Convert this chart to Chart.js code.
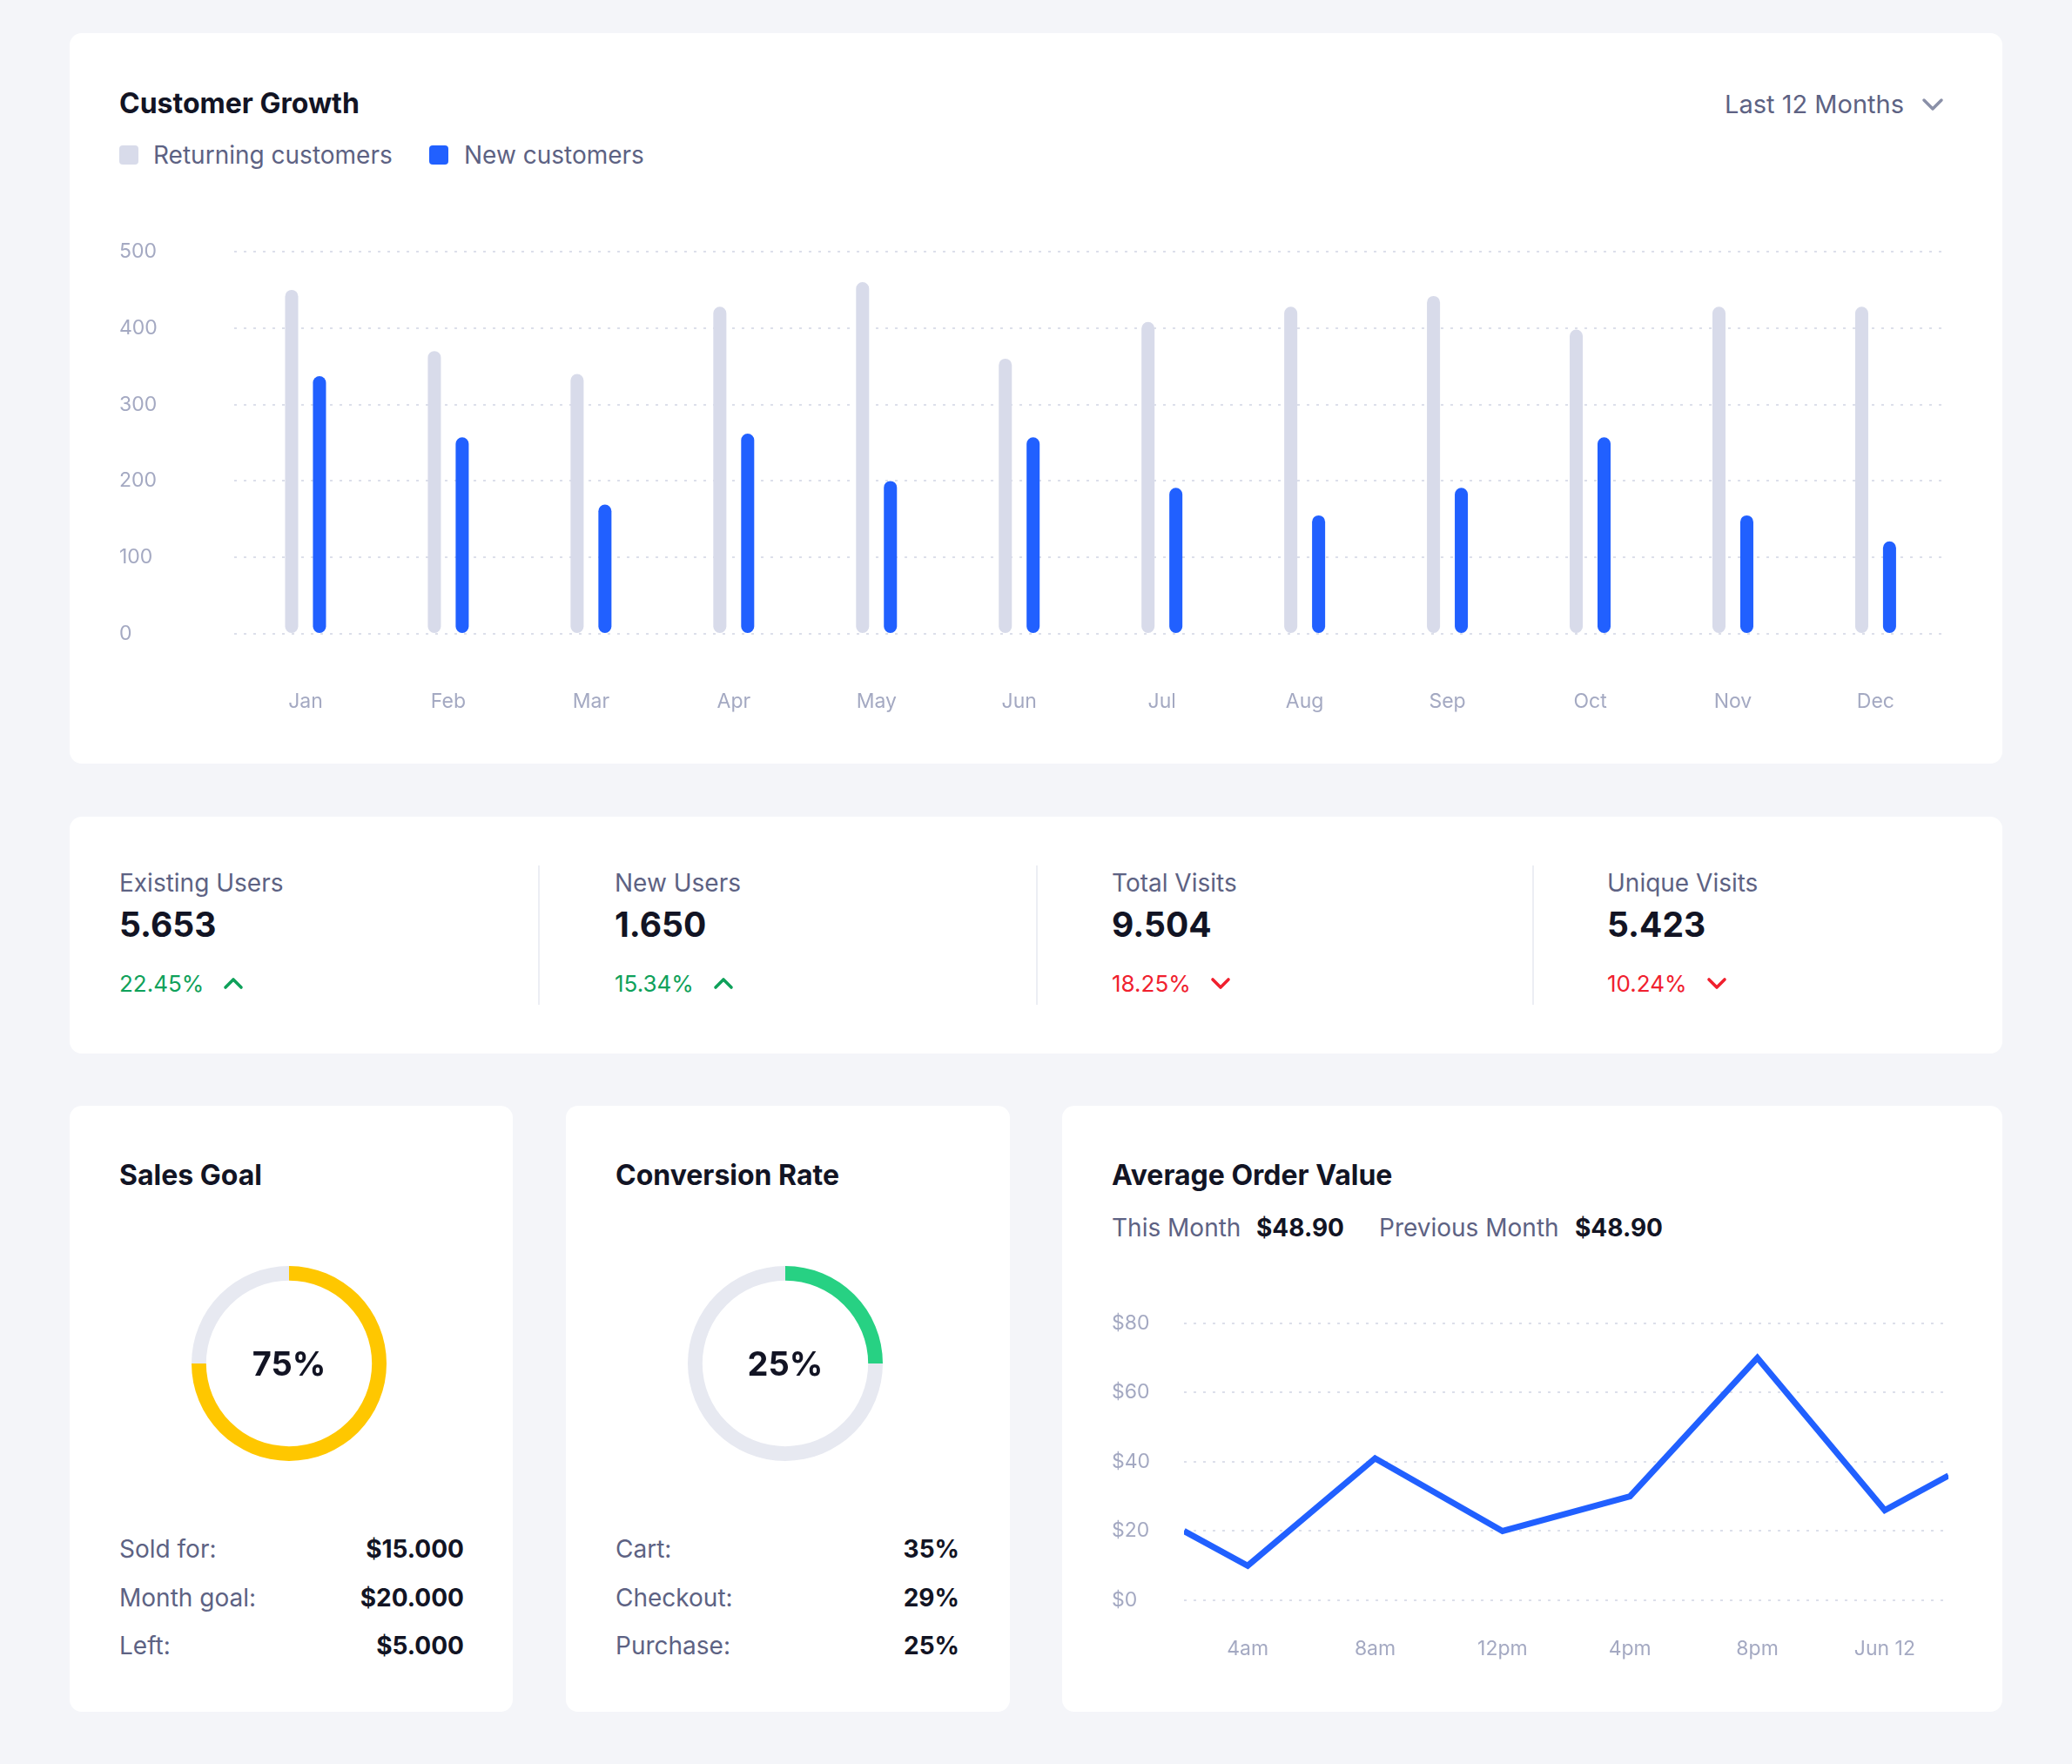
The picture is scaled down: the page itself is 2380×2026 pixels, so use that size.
<!DOCTYPE html>
<html>
<head>
<meta charset="utf-8">
<title>Dashboard</title>
<script src="https://cdn.jsdelivr.net/npm/chart.js@4.4.1/dist/chart.umd.min.js"></script>
<style>
  html, body { margin: 0; padding: 0; }
  body {
    width: 2380px; height: 2026px; position: relative; overflow: hidden;
    background: #f4f5f9; font-family: Inter, "Noto Sans", sans-serif; color: #5d6283;
  }
  .card { position: absolute; background: #fff; border-radius: 14px; }
  .abs { position: absolute; white-space: nowrap; line-height: 1; }
  .title { font-size: 32px; font-weight: 700; color: #121424; }
  .muted { font-size: 28px; color: #5d6283; }
  .big { font-size: 39px; font-weight: 700; color: #121424; }
  .val { font-size: 28px; font-weight: 700; color: #121424; }
  .up { font-size: 26px; color: #0fa15a; }
  .down { font-size: 26px; color: #f0202e; }
  .pct { font-size: 38px; font-weight: 700; color: #121424; text-align: center; width: 224px; }
  .sq { position: absolute; width: 22px; height: 22px; border-radius: 4px; }
  .divider { position: absolute; width: 2px; background: #eceef4; top: 994px; height: 160px; }
  .chev { display: inline-block; vertical-align: middle; margin-left: 22px; margin-top: -4px; }
  .box { position: absolute; }
</style>
</head>
<body>

<!-- cards -->
<div class="card" style="left:80px;top:38px;width:2220px;height:839px"></div>
<div class="card" style="left:80px;top:938px;width:2220px;height:272px"></div>
<div class="card" style="left:80px;top:1270px;width:509px;height:696px"></div>
<div class="card" style="left:650px;top:1270px;width:510px;height:696px"></div>
<div class="card" style="left:1220px;top:1270px;width:1080px;height:696px"></div>

<!-- customer growth header -->
<div class="abs title" style="left:137px;top:103px">Customer Growth</div>
<div class="sq" style="left:137px;top:167px;background:#d8dbea"></div>
<div class="abs muted" style="left:176px;top:164px">Returning customers</div>
<div class="sq" style="left:493px;top:167px;background:#2160ff"></div>
<div class="abs muted" style="left:533px;top:164px">New customers</div>
<div class="abs muted" style="right:193px;top:105px;font-size:29px">Last 12 Months</div>
<svg class="box" style="left:2207px;top:111px" width="26" height="18" viewBox="0 0 26 18">
  <polyline points="3,4 13,14 23,4" fill="none" stroke="#8a90a8" stroke-width="3.5" stroke-linecap="round" stroke-linejoin="round"/>
</svg>

<div class="box" style="left:137px;top:268px;width:2103px;height:553px"><canvas id="growthChart"></canvas></div>

<!-- stats row -->
<div class="divider" style="left:618px"></div>
<div class="divider" style="left:1190px"></div>
<div class="divider" style="left:1760px"></div>
<div id="stats"></div>

<!-- sales goal -->
<div class="abs title" style="left:137px;top:1334px">Sales Goal</div>
<div class="box" style="left:220px;top:1454px;width:224px;height:224px"><canvas id="salesDonut"></canvas></div>
<div class="abs pct" style="left:220px;top:1547px">75%</div>
<div id="salesRows"></div>

<!-- conversion rate -->
<div class="abs title" style="left:707px;top:1334px">Conversion Rate</div>
<div class="box" style="left:790px;top:1454px;width:224px;height:224px"><canvas id="convDonut"></canvas></div>
<div class="abs pct" style="left:790px;top:1547px">25%</div>
<div id="convRows"></div>

<!-- average order value -->
<div class="abs title" style="left:1277px;top:1334px">Average Order Value</div>
<div class="abs muted" style="left:1277px;top:1396px">This Month</div>
<div class="abs val" style="left:1443px;top:1396px">$48.90</div>
<div class="abs muted" style="left:1584px;top:1396px">Previous Month</div>
<div class="abs val" style="left:1809px;top:1396px">$48.90</div>
<div class="box" style="left:1277px;top:1506px;width:965px;height:402px"><canvas id="orderChart"></canvas></div>

<script>
// Customer growth data
const months = ["Jan", "Feb", "Mar", "Apr", "May", "Jun", "Jul", "Aug", "Sep", "Oct", "Nov", "Dec"];
const returningCustomers = [450, 370, 340, 428, 460, 360, 408, 428, 442, 398, 428, 428];
const newCustomers = [337, 257, 169, 262, 200, 257, 191, 155, 191, 257, 155, 121];

// Stats row
const statLabels = ["Existing Users", "New Users", "Total Visits", "Unique Visits"];
const statValues = ["5.653", "1.650", "9.504", "5.423"];
const statChanges = ["22.45%", "15.34%", "18.25%", "10.24%"];
const statTrendUp = [true, true, false, false];

// Donuts
const salesGoalPercent = [75, 25];
const salesRowLabels = ["Sold for:", "Month goal:", "Left:"];
const salesRowValues = ["$15.000", "$20.000", "$5.000"];
const conversionPercent = [25, 75];
const convRowLabels = ["Cart:", "Checkout:", "Purchase:"];
const convRowValues = ["35%", "29%", "25%"];

// Average order value (x = hour of day)
const orderHours = [2, 4, 8, 12, 16, 20, 24, 26];
const orderValues = [20, 10, 41, 20, 30, 70, 26, 36];
const orderTickHours = [4, 8, 12, 16, 20, 24];
const orderTickLabels = ["4am", "8am", "12pm", "4pm", "8pm", "Jun 12"];

const tickFont = { family: "Inter", size: 23 };
const tickColor = "#a4a9c2";
const gridColor = "#dcdfea";

document.addEventListener("DOMContentLoaded", () => {
    buildStats();
    buildRows("salesRows", salesRowLabels, salesRowValues, 137, 533);
    buildRows("convRows", convRowLabels, convRowValues, 707, 1102);
    drawGrowthChart();
    drawDonut("salesDonut", salesGoalPercent, "#ffc700");
    drawDonut("convDonut", conversionPercent, "#27d183");
    drawOrderChart();
});

function chevron(up, color) {
    const pts = up ? "3,13 12,4 21,13" : "3,4 12,13 21,4";
    return '<svg class="chev" width="24" height="17" viewBox="0 0 24 17"><polyline points="' + pts +
        '" fill="none" stroke="' + color + '" stroke-width="3.6" stroke-linecap="round" stroke-linejoin="round"/></svg>';
}

function buildStats() {
    const lefts = [137, 706, 1277, 1846];
    let html = "";
    statLabels.forEach((label, i) => {
        const cls = statTrendUp[i] ? "up" : "down";
        const color = statTrendUp[i] ? "#0fa15a" : "#f0202e";
        html += '<div class="abs muted" style="left:' + lefts[i] + 'px;top:1000px">' + label + '</div>';
        html += '<div class="abs big" style="left:' + lefts[i] + 'px;top:1042px">' + statValues[i] + '</div>';
        html += '<div class="abs ' + cls + '" style="left:' + lefts[i] + 'px;top:1117px">' + statChanges[i] + chevron(statTrendUp[i], color) + '</div>';
    });
    document.getElementById("stats").innerHTML = html;
}

function buildRows(id, labels, values, left, right) {
    const tops = [1765, 1821, 1876];
    let html = "";
    labels.forEach((label, i) => {
        html += '<div class="abs muted" style="left:' + left + 'px;top:' + tops[i] + 'px">' + label + '</div>';
        html += '<div class="abs val" style="right:' + (2380 - right) + 'px;top:' + tops[i] + 'px">' + values[i] + '</div>';
    });
    document.getElementById(id).innerHTML = html;
}

function drawGrowthChart() {
    const ctx = document.getElementById("growthChart").getContext("2d");
    new Chart(ctx, {
        type: "bar",
        data: {
            labels: months,
            datasets: [
                {
                    label: "Returning customers",
                    data: returningCustomers,
                    backgroundColor: "#d8dbea",
                    borderRadius: 8,
                    borderSkipped: false,
                },
                {
                    label: "New customers",
                    data: newCustomers,
                    backgroundColor: "#2160ff",
                    borderRadius: 8,
                    borderSkipped: false,
                },
            ],
        },
        options: {
            responsive: true,
            maintainAspectRatio: false,
            animation: false,
            layout: { padding: { top: 21, right: 0, left: 0, bottom: 0 } },
            categoryPercentage: 0.39,
            barPercentage: 0.47,
            scales: {
                x: {
                    afterFit: (axis) => { axis.height = 93; },
                    grid: { display: false, drawTicks: false },
                    border: { display: false },
                    ticks: { color: tickColor, font: tickFont, padding: 64 },
                },
                y: {
                    min: 0,
                    max: 500,
                    afterFit: (axis) => { axis.width = 132; },
                    grid: { color: gridColor, lineWidth: 2, drawTicks: false, borderDash: [3, 8] },
                    border: { display: false, dash: [3, 8] },
                    ticks: { stepSize: 100, color: tickColor, font: tickFont, crossAlign: "far", padding: 0 },
                },
            },
            plugins: { legend: { display: false }, tooltip: { enabled: false } },
        },
    });
}

function drawDonut(canvasId, values, color) {
    const ctx = document.getElementById(canvasId).getContext("2d");
    new Chart(ctx, {
        type: "doughnut",
        data: {
            datasets: [{ data: values, backgroundColor: [color, "#e7e9f1"], borderWidth: 0 }],
        },
        options: {
            responsive: true,
            maintainAspectRatio: false,
            animation: false,
            cutout: "85%",
            plugins: { legend: { display: false }, tooltip: { enabled: false } },
        },
    });
}

function drawOrderChart() {
    const ctx = document.getElementById("orderChart").getContext("2d");
    new Chart(ctx, {
        type: "line",
        data: {
            datasets: [
                {
                    label: "Average order value",
                    data: orderHours.map((h, i) => ({ x: h, y: orderValues[i] })),
                    borderColor: "#2160ff",
                    borderWidth: 7,
                    tension: 0,
                    pointRadius: 0,
                    fill: false,
                    borderJoinStyle: "miter",
                },
            ],
        },
        options: {
            responsive: true,
            maintainAspectRatio: false,
            animation: false,
            layout: { padding: { top: 11, right: 0, left: 0, bottom: 0 } },
            scales: {
                x: {
                    type: "linear",
                    min: 2,
                    max: 26,
                    afterBuildTicks: (axis) => { axis.ticks = orderTickHours.map((v) => ({ value: v })); },
                    afterFit: (axis) => { axis.height = 70; },
                    grid: { display: false, drawTicks: false },
                    border: { display: false },
                    ticks: {
                        color: tickColor,
                        font: tickFont,
                        padding: 42,
                        callback: (v) => orderTickLabels[orderTickHours.indexOf(v)],
                    },
                },
                y: {
                    min: 0,
                    max: 80,
                    afterFit: (axis) => { axis.width = 83; },
                    grid: { color: gridColor, lineWidth: 2, drawTicks: false, borderDash: [3, 8] },
                    border: { display: false, dash: [3, 8] },
                    ticks: {
                        stepSize: 20,
                        color: tickColor,
                        font: tickFont,
                        crossAlign: "far",
                        padding: 0,
                        callback: (v) => "$" + v,
                    },
                },
            },
            plugins: { legend: { display: false }, tooltip: { enabled: false } },
        },
    });
}
</script>
</body>
</html>
